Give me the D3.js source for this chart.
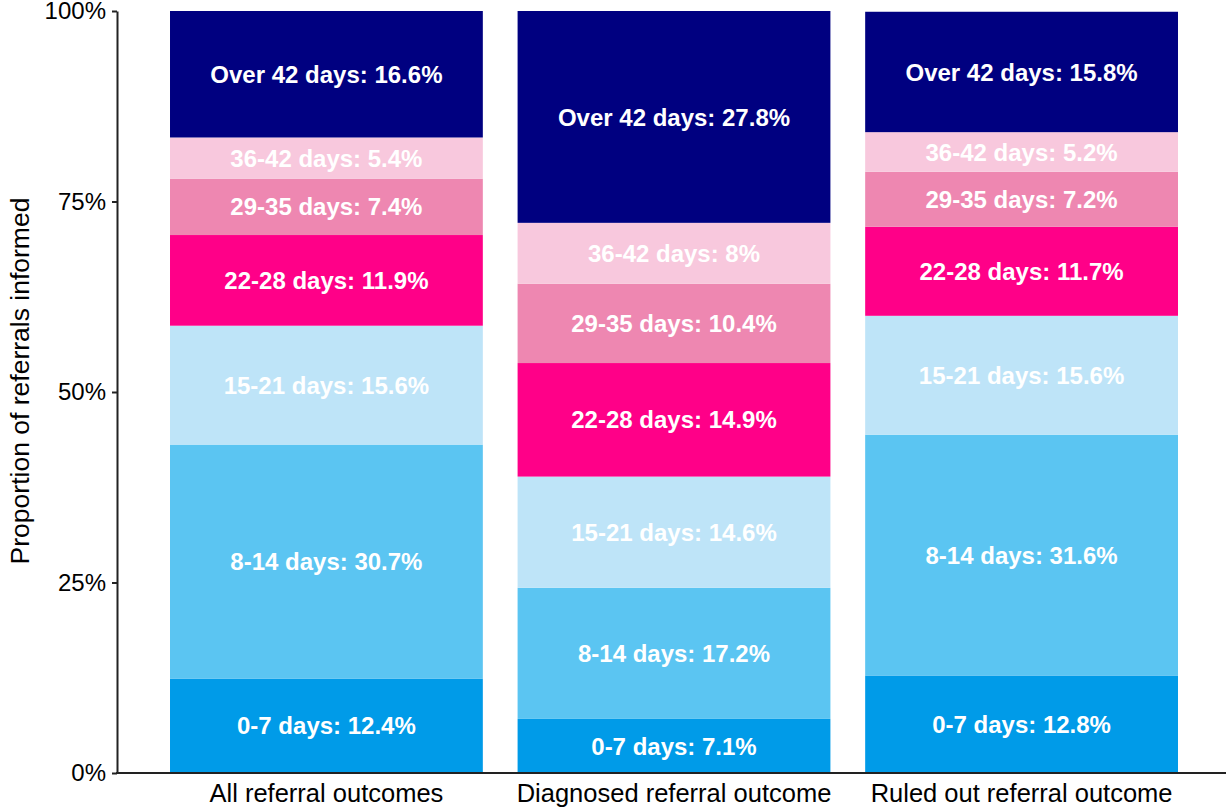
<!DOCTYPE html>
<html><head><meta charset="utf-8">
<script src="https://cdn.jsdelivr.net/npm/d3@7"></script>
<style>body{margin:0;background:#fff;} svg{display:block;font-family:"Liberation Sans",Arial,sans-serif;}</style>
</head><body>
<svg id="c" width="1226" height="809"></svg>
<script>
const categories = ["All referral outcomes", "Diagnosed referral outcome", "Ruled out referral outcome"];
const bands = ["0-7 days", "8-14 days", "15-21 days", "22-28 days", "29-35 days", "36-42 days", "Over 42 days"];
const allValues = [12.4, 30.7, 15.6, 11.9, 7.4, 5.4, 16.6];
const diagnosedValues = [7.1, 17.2, 14.6, 14.9, 10.4, 8, 27.8];
const ruledOutValues = [12.8, 31.6, 15.6, 11.7, 7.2, 5.2, 15.8];
const colors = ["#009BE8", "#5BC5F2", "#BEE4F8", "#FF0088", "#EE87B1", "#F8C8DD", "#000080"];
const yTicks = [0, 25, 50, 75, 100];
const yTitle = "Proportion of referrals informed";

const series = [allValues, diagnosedValues, ruledOutValues];
const svg = d3.select("#c");
const x = d3.scaleBand().domain(categories).range([117, 1231]).paddingInner(0.1).paddingOuter(0.1525);
const y = d3.scaleLinear().domain([0, 100]).range([773, 11]);

categories.forEach((cat, ci) => {
  let cum = 0;
  const vals = series[ci];
  const segs = vals.map((v, i) => { const s = {v, i, y0: cum, y1: cum + v}; cum += v; return s; });
  const g = svg.append("g");
  g.selectAll("rect").data(segs).join("rect")
    .attr("x", x(cat)).attr("width", x.bandwidth())
    .attr("y", d => y(Math.min(100, d.y1))).attr("height", d => y(d.y0) - y(Math.min(100, d.y1)))
    .attr("fill", d => colors[d.i]);
  g.selectAll("text").data(segs).join("text")
    .attr("x", x(cat) + x.bandwidth() / 2)
    .attr("y", d => (y(d.y0) + y(Math.min(100, d.y1))) / 2)
    .attr("dy", "0.36em").attr("text-anchor", "middle")
    .attr("fill", "#fff").attr("font-weight", "bold").attr("font-size", "24px")
    .text(d => `${bands[d.i]}: ${d.v}%`);
});

const yAxis = svg.append("g").attr("transform", "translate(117,0)")
  .call(d3.axisLeft(y).tickValues(yTicks).tickFormat(d => d + "%").tickSize(5).tickSizeOuter(0));
yAxis.select(".domain").attr("stroke", "#222").attr("stroke-width", 2);
yAxis.selectAll(".tick line").attr("stroke", "#222").attr("stroke-width", 2);
yAxis.selectAll(".tick text").attr("font-size", "24px").attr("fill", "#000").attr("x", -11)
  .attr("font-family", "'Liberation Sans',Arial,sans-serif");

const xAxis = svg.append("g").attr("transform", "translate(0,773)")
  .call(d3.axisBottom(x).tickSize(0).tickSizeOuter(0));
xAxis.select(".domain").attr("stroke", "#222").attr("stroke-width", 2).attr("d", "M116,0H1226");
xAxis.selectAll(".tick text").attr("font-size", "25.5px").attr("fill", "#000").attr("y", 11)
  .attr("font-family", "'Liberation Sans',Arial,sans-serif");

svg.append("text").attr("transform", "translate(29,381) rotate(-90)")
  .attr("text-anchor", "middle").attr("font-size", "26.5px").attr("fill", "#000").text(yTitle);
</script>
</body></html>
